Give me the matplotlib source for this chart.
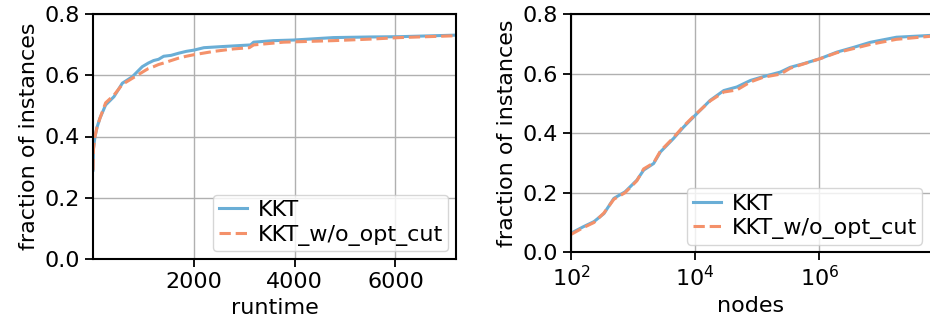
import numpy as np
import matplotlib
matplotlib.use('Agg')
import matplotlib.pyplot as plt

#%% data read off the reference %%#
runtime_kkt = [1, 10, 40, 80, 139, 251, 416, 582, 780, 978, 1100, 1202, 1300, 1402, 1550, 1700, 1850, 2000, 2200, 2600, 3125, 3186, 3580, 3980, 4770, 5500, 6090, 7200]
frac_kkt    = [0.29, 0.36, 0.40, 0.43, 0.46, 0.503, 0.53, 0.574, 0.595, 0.628, 0.64, 0.648, 0.652, 0.662, 0.665, 0.672, 0.678, 0.682, 0.69, 0.694, 0.699, 0.708, 0.713, 0.715, 0.723, 0.725, 0.726, 0.731]

runtime_wo = [1, 10, 40, 80, 139, 251, 416, 582, 780, 978, 1100, 1202, 1300, 1402, 1550, 1700, 1850, 2000, 2400, 2790, 3100, 3186, 3780, 4770, 5500, 6090, 7200]
frac_wo    = [0.29, 0.36, 0.40, 0.43, 0.46, 0.51, 0.535, 0.57, 0.59, 0.61, 0.622, 0.628, 0.635, 0.64, 0.648, 0.656, 0.662, 0.667, 0.678, 0.686, 0.69, 0.699, 0.708, 0.713, 0.718, 0.723, 0.729]

lognodes_kkt = [2.0, 2.2, 2.37, 2.53, 2.69, 2.87, 3.06, 3.17, 3.33, 3.44, 3.65, 3.81, 4.0, 4.24, 4.46, 4.67, 4.89, 5.1, 5.37, 5.53, 5.74, 6.01, 6.28, 6.55, 6.82, 7.24, 7.78]
nfrac_kkt    = [0.064, 0.086, 0.103, 0.13, 0.181, 0.203, 0.242, 0.276, 0.298, 0.337, 0.382, 0.42, 0.46, 0.51, 0.543, 0.555, 0.577, 0.59, 0.605, 0.621, 0.633, 0.65, 0.672, 0.688, 0.705, 0.722, 0.728]

lognodes_wo = [2.0, 2.2, 2.37, 2.53, 2.69, 2.87, 3.06, 3.17, 3.33, 3.44, 3.65, 3.81, 4.0, 4.24, 4.46, 4.67, 4.89, 5.1, 5.37, 5.53, 5.74, 6.01, 6.28, 6.55, 6.82, 7.24, 7.78]
nfrac_wo    = [0.06, 0.083, 0.10, 0.132, 0.178, 0.2, 0.24, 0.28, 0.30, 0.34, 0.385, 0.423, 0.462, 0.508, 0.538, 0.545, 0.572, 0.588, 0.598, 0.618, 0.632, 0.65, 0.67, 0.684, 0.698, 0.715, 0.725]

blue = '#6aaed6'
orange = '#f4916a'
fs = 16

fig = plt.figure(figsize=(9.3, 3.28), dpi=100)
ax1 = fig.add_axes([93/930, 1-259/328, 363/930, 245/328])
ax2 = fig.add_axes([571/930, 1-252.3/328, 359/930, 238.3/328])

ax1.plot(runtime_kkt, frac_kkt, color=blue, lw=2.2, label='KKT')
ax1.plot(runtime_wo, frac_wo, color=orange, lw=2.2, ls='--', label='KKT_w/o_opt_cut')
ax1.set_xlim(0.5, 7200)
ax1.set_xticks([2000, 4000, 6000])
ax1.set_xlabel('runtime', fontsize=fs)

ax2.plot(10**np.array(lognodes_kkt), nfrac_kkt, color=blue, lw=2.2, label='KKT')
ax2.plot(10**np.array(lognodes_wo), nfrac_wo, color=orange, lw=2.2, ls='--', label='KKT_w/o_opt_cut')
ax2.set_xscale('log')
ax2.set_xlim(1e2, 10**7.78)
ax2.set_xticks([1e2, 1e4, 1e6])
ax2.minorticks_off()
ax2.set_xlabel('nodes', fontsize=fs)
ax2.spines['right'].set_visible(False)

for ax in (ax1, ax2):
    ax.set_ylim(0, 0.8)
    ax.set_yticks([0, 0.2, 0.4, 0.6, 0.8])
    ax.set_ylabel('fraction of instances', fontsize=fs)
    ax.tick_params(labelsize=fs, width=1.3, length=6)
    ax.grid(True, color='#b0b0b0', lw=1)
    for s in ax.spines.values():
        s.set_linewidth(1.5)
    ax.legend(loc='lower right', fontsize=fs, handlelength=1.3, handletextpad=0.45,
              borderpad=0.25, labelspacing=0.2, borderaxespad=0.35)

fig.savefig('out.png', dpi=100)
